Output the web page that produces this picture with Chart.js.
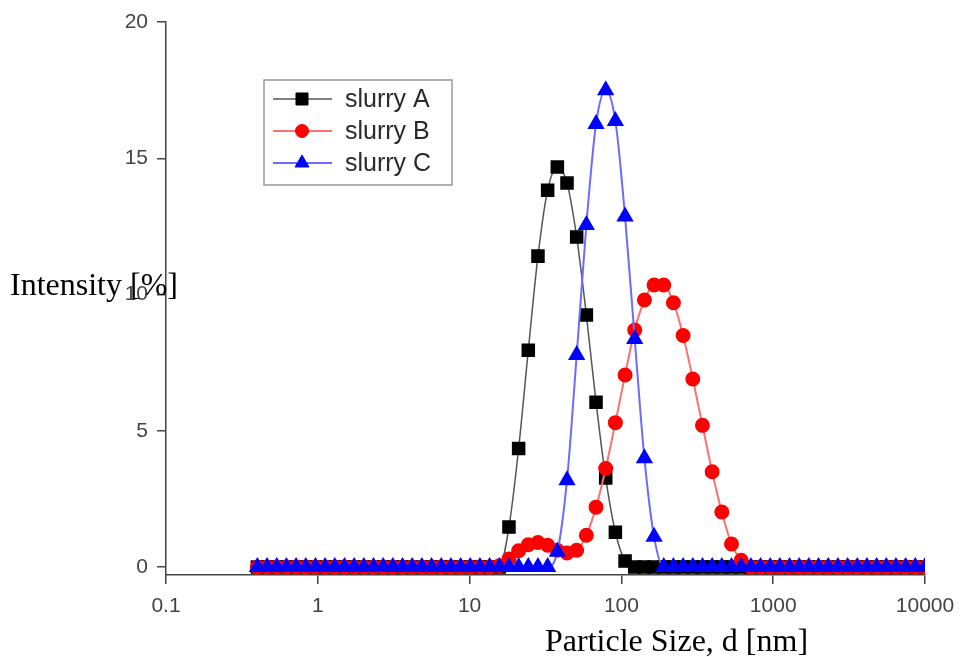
<!DOCTYPE html>
<html>
<head>
<meta charset="utf-8">
<script src="https://cdn.jsdelivr.net/npm/chart.js@4.4.1/dist/chart.umd.min.js"></script>
<style>
  html, body { margin: 0; padding: 0; background: #fff; }
  #wrap { position: relative; width: 962px; height: 657px; }
  #grafico { position: absolute; left: 0; top: 0; }
  .titulo { position: absolute; font-family: "Liberation Serif", serif; font-size: 32px; line-height: 36px; color: #000; white-space: nowrap; z-index: 2; }
</style>
</head>
<body>
<div id="wrap">
  <canvas id="grafico" width="962" height="657"></canvas>
  <div class="titulo" style="left:10px; top:266px;">Intensity [%]</div>
  <div class="titulo" style="left:545px; top:622px;">Particle Size, d [nm]</div>
</div>
<script>
// tamanhos (nm) - classes do medidor
const sizes = [0.4, 0.4632, 0.5365, 0.6213, 0.7195, 0.8332, 0.9649, 1.117, 1.294, 1.499,
  1.736, 2.01, 2.328, 2.696, 3.122, 3.615, 4.187, 4.849, 5.615, 6.503,
  7.531, 8.721, 10.1, 11.7, 13.54, 15.69, 18.17, 21.04, 24.36, 28.21,
  32.67, 37.84, 43.82, 50.75, 58.77, 68.06, 78.82, 91.28, 105.7, 122.4,
  141.8, 164.2, 190.1, 220.2, 255, 295.3, 342, 396.1, 458.7, 531.2,
  615.1, 712.4, 825, 955.4, 1106, 1281, 1484, 1718, 1990, 2305,
  2669, 3091, 3580, 4145, 4801, 5560, 6439, 7456, 8635, 10000];

const slurryA = [0, 0, 0, 0, 0, 0, 0, 0, 0, 0,
  0, 0, 0, 0, 0, 0, 0, 0, 0, 0,
  0, 0, 0, 0, 0, 0, 1.47, 4.35, 7.96, 11.41,
  13.83, 14.68, 14.09, 12.11, 9.25, 6.05, 3.27, 1.28, 0.22, 0,
  0, 0, 0, 0, 0, 0, 0, 0, 0, 0,
  0, 0, 0, 0, 0, 0, 0, 0, 0, 0,
  0, 0, 0, 0, 0, 0, 0, 0, 0, 0];

const slurryB = [0, 0, 0, 0, 0, 0, 0, 0, 0, 0,
  0, 0, 0, 0, 0, 0, 0, 0, 0, 0,
  0, 0, 0, 0, 0, 0.05, 0.3, 0.6, 0.82, 0.9,
  0.8, 0.62, 0.52, 0.62, 1.17, 2.2, 3.62, 5.3, 7.05, 8.7,
  9.8, 10.35, 10.35, 9.7, 8.5, 6.9, 5.2, 3.5, 2.02, 0.85,
  0.25, 0, 0, 0, 0, 0, 0, 0, 0, 0,
  0, 0, 0, 0, 0, 0, 0, 0, 0, 0];

const slurryC = [0, 0, 0, 0, 0, 0, 0, 0, 0, 0,
  0, 0, 0, 0, 0, 0, 0, 0, 0, 0,
  0, 0, 0, 0, 0, 0, 0, 0, 0, 0,
  0, 0.56, 3.19, 7.78, 12.55, 16.26, 17.5, 16.37, 12.86, 8.37,
  3.99, 1.11, 0, 0, 0, 0, 0, 0, 0, 0,
  0, 0, 0, 0, 0, 0, 0, 0, 0, 0,
  0, 0, 0, 0, 0, 0, 0, 0, 0, 0];

const xTicks = [0.1, 1, 10, 100, 1000, 10000];
const xTickLabels = ['0.1', '1', '10', '100', '1000', '10000'];
const yTicks = [0, 5, 10, 15, 20];

function pares(ys) {
    return sizes.map((s, i) => ({ x: s, y: ys[i] }));
}

var series = [
    { label: 'slurry A', data: pares(slurryA), borderColor: '#555555', borderWidth: 1.5,
      pointStyle: 'rect', pointRadius: 8.5, pointBackgroundColor: '#000', pointBorderColor: '#000', order: 2 },
    { label: 'slurry B', data: pares(slurryB), borderColor: '#ff7070', borderWidth: 2,
      pointStyle: 'circle', pointRadius: 6.5, pointBackgroundColor: '#ff0000', pointBorderColor: '#ff0000', order: 1 },
    { label: 'slurry C', data: pares(slurryC), borderColor: '#6b6bff', borderWidth: 2,
      pointStyle: 'triangle', pointRadius: 8, pointBackgroundColor: '#0000ff', pointBorderColor: '#0000ff', order: 0 }
];

function drawMarker(ctx, estilo, r, x, y) {
    if (estilo === 'rect') {
        const h = r * Math.SQRT1_2;
        ctx.rect(x - h, y - h, 2 * h, 2 * h);
    } else if (estilo === 'circle') {
        ctx.arc(x, y, r, 0, Math.PI * 2);
    } else {
        ctx.moveTo(x, y - r);
        ctx.lineTo(x + r * Math.sin(Math.PI * 2 / 3), y + r / 2);
        ctx.lineTo(x - r * Math.sin(Math.PI * 2 / 3), y + r / 2);
        ctx.closePath();
    }
}

// legenda dentro do gráfico
var legendaCaixa = {
    id: 'legendaCaixa',
    afterDraw(chart) {
        const ctx = chart.ctx;
        ctx.save();
        ctx.fillStyle = '#fff';
        ctx.fillRect(264, 80, 188, 105);
        ctx.strokeStyle = '#999';
        ctx.lineWidth = 1.5;
        ctx.strokeRect(264, 80, 188, 105);
        const linhas = [99, 131, 163];
        series.forEach((s, i) => {
            const y = linhas[i];
            ctx.strokeStyle = s.borderColor;
            ctx.lineWidth = s.borderWidth;
            ctx.beginPath();
            ctx.moveTo(273, y);
            ctx.lineTo(332, y);
            ctx.stroke();
            ctx.fillStyle = s.pointBackgroundColor;
            ctx.strokeStyle = s.pointBorderColor;
            ctx.lineWidth = 1;
            ctx.beginPath();
            drawMarker(ctx, s.pointStyle, s.pointRadius, 302, y);
            ctx.fill();
            ctx.stroke();
            ctx.fillStyle = '#2a2a2a';
            ctx.font = '25px "Liberation Sans", Arial, sans-serif';
            ctx.textBaseline = 'middle';
            ctx.fillText(s.label, 345, y + 1);
        });
        ctx.restore();
    }
};

var ctxGrafico = document.getElementById('grafico').getContext('2d');

var grafico = new Chart(ctxGrafico, {
    type: 'line',
    data: { datasets: series },
    options: {
        responsive: false,
        animation: false,
        layout: { padding: { left: 0, top: 22, right: 37, bottom: 0 } },
        elements: {
            line: { cubicInterpolationMode: 'monotone', fill: false },
            point: { borderWidth: 1 }
        },
        plugins: {
            legend: { display: false },
            tooltip: { enabled: false }
        },
        scales: {
            x: {
                type: 'logarithmic',
                min: 0.1,
                max: 10000,
                afterBuildTicks: (scale) => { scale.ticks = xTicks.map(v => ({ value: v })); },
                afterFit: (scale) => { scale.height = 82; scale.paddingRight = 0; scale.paddingLeft = 0; },
                ticks: {
                    autoSkip: false,
                    maxRotation: 0,
                    padding: 10,
                    color: '#444',
                    font: { family: '"Liberation Sans", Arial, sans-serif', size: 21 },
                    callback: (v) => xTickLabels[xTicks.indexOf(v)]
                },
                grid: { drawOnChartArea: false, drawTicks: true, tickLength: 9, color: '#444', lineWidth: 1.5 },
                border: { display: true, color: '#444', width: 1.5 }
            },
            y: {
                min: -0.29,
                max: 20,
                afterBuildTicks: (scale) => { scale.ticks = yTicks.map(v => ({ value: v })); },
                afterFit: (scale) => { scale.width = 166; },
                ticks: {
                    padding: 9,
                    color: '#444',
                    font: { family: '"Liberation Sans", Arial, sans-serif', size: 21 }
                },
                grid: { drawOnChartArea: false, drawTicks: true, tickLength: 9, color: '#444', lineWidth: 1.5 },
                border: { display: true, color: '#444', width: 1.5 }
            }
        }
    },
    plugins: [legendaCaixa]
});
</script>
</body>
</html>
